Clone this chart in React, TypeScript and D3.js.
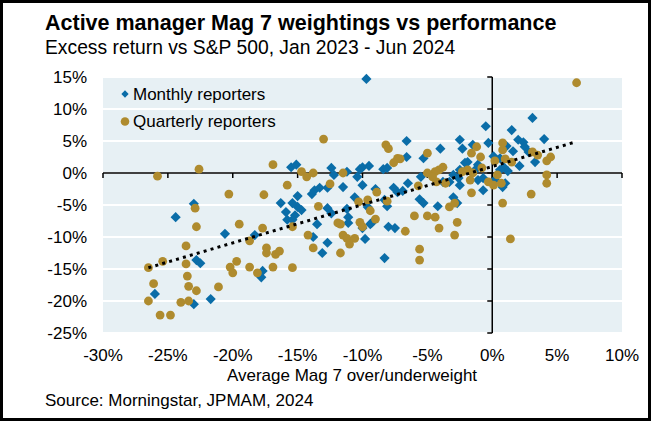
import React from "react";
import * as d3 from "d3";

const W = 651;
const H = 421;

const xTicks = [-30, -25, -20, -15, -10, -5, 0, 5, 10];
const yTicks = [15, 10, 5, 0, -5, -10, -15, -20, -25];

// Monthly reporters: [Mag 7 over/underweight %, excess return %]
const monthly: [number, number][] = [
  [-9.7, 14.7], [3.1, 8.6], [-0.5, 7.3], [1.5, 6.7], [4.0, 5.3], [2.0, 5.2], [2.4, 4.8],
  [-0.3, 4.7], [-6.6, 5.0], [-4.0, 3.8], [-2.5, 5.2], [-1.5, 4.4], [-2.3, 3.8], [1.1, 4.2],
  [2.5, 4.1], [1.6, 3.4], [2.8, 3.3], [3.3, 1.7], [2.1, 1.1], [0.6, 2.3], [0.1, 2.6],
  [0.9, 0.9], [1.2, 0.3], [0.6, 0.5], [1.0, -1.6], [0.8, -2.2], [-0.7, -2.7], [-1.1, -1.1],
  [-1.9, 1.7], [-2.0, 0.5], [-1.3, 0.5], [-6.6, 2.5], [-5.3, 2.3], [-2.1, 1.6], [-1.1, 1.3],
  [-2.5, 0.5], [-3.0, -0.3], [-2.6, -0.8], [-0.7, -0.8], [0.2, -1.1], [-3.3, -1.4],
  [-3.8, -1.4], [-2.5, -1.9], [-5.5, -0.6], [-6.5, -1.6], [-6.9, -2.8], [-5.6, -4.1],
  [-5.3, -4.7], [-4.2, -5.2], [-3.0, -3.8], [-2.7, -4.7], [-15.5, 0.9], [-15.1, 1.3],
  [-12.4, 0.8], [-12.2, -0.3], [-11.2, 0.2], [-10.2, 0.6], [-10.0, 0.9], [-9.5, 1.1],
  [-10.4, -0.6], [-8.4, 0.6], [-8.1, 0.8], [-11.5, -2.2], [-10.0, -1.9], [-13.7, -2.7],
  [-13.3, -2.3], [-13.9, -3.3], [-12.7, -2.3], [-9.0, -2.5], [-7.6, -2.3], [-7.3, -3.0],
  [-15.0, -3.6], [-10.6, -3.8], [-8.3, -4.2], [-8.1, -5.2], [-9.6, -5.3], [-12.7, -5.5],
  [-12.4, -6.3], [-11.2, -5.6], [-11.1, -6.9], [-15.0, -5.3], [-14.7, -5.8], [-15.2, -6.6],
  [-15.4, -4.7], [-16.3, -4.7], [-15.9, -6.1], [-15.8, -7.3], [-15.4, -7.3], [-23.0, -4.8],
  [-24.4, -6.9], [-20.6, -9.5], [-18.3, -9.7], [-17.7, -15.3], [-17.8, -16.3], [-22.8, -13.6],
  [-22.5, -14.1], [-26.0, -18.9], [-23.0, -20.5], [-21.7, -19.7], [-10.0, -8.6], [-9.3, -7.8],
  [-8.0, -8.4], [-7.5, -8.6], [-13.8, -10.0], [-9.8, -10.3], [-12.7, -10.9], [-13.1, -12.5],
  [-13.5, -8.0], [-9.4, -8.0], [-11.1, -7.8], [-8.3, -13.3],
];

// Quarterly reporters
const quarterly: [number, number][] = [
  [6.5, 14.1], [-13.0, 5.3], [-8.2, 4.4], [-8.0, 3.8], [-7.3, 2.3], [-7.6, 1.6], [-14.7, 0.2],
  [-14.3, -0.6], [-13.8, 0.0], [-11.5, 0.0], [-12.5, -1.7], [-8.9, -3.0], [-10.3, -4.5],
  [-9.6, -4.2], [-8.1, -4.4], [-13.4, -5.2], [-11.9, -7.8], [-11.7, -8.0], [-9.4, -5.9],
  [-10.2, -7.7], [-10.0, -8.4], [-9.0, -7.2], [-6.7, -9.1], [-14.2, -9.7], [-11.5, -9.7],
  [-11.2, -10.2], [-10.6, -10.2], [-11.0, -11.1], [-13.8, -11.7], [-11.7, -12.5],
  [-15.4, -14.8], [-6.0, -6.7], [-5.0, -6.7], [-4.4, -6.9], [-4.1, -8.6], [-2.9, -9.7],
  [-2.7, -7.7], [-3.3, -5.3], [-2.9, -4.7], [-5.6, -11.9], [-5.6, -13.6], [-1.2, 4.1],
  [-1.6, 3.1], [-0.9, 2.5], [-5.0, 3.1], [-7.1, 2.2], [0.2, 1.9], [-3.8, 0.9], [-4.1, 0.5],
  [-4.4, 0.2], [-5.0, 0.0], [-4.6, -0.6], [-4.3, -1.4], [-3.6, -1.6], [-1.9, 0.5],
  [-1.5, 0.0], [-0.8, 0.8], [-0.3, -1.4], [0.1, -1.9], [-1.6, -3.1], [-5.7, -2.0],
  [-2.3, 0.2], [-1.7, -1.1], [0.8, 4.7], [0.8, 3.6], [3.1, 3.3], [3.5, 2.8], [4.5, 2.5],
  [4.2, 1.9], [1.0, 2.2], [1.5, 1.7], [0.4, -0.3], [4.2, -0.3], [4.2, -1.6], [0.7, -1.6],
  [3.0, -3.3], [0.8, -4.7], [1.4, -10.3], [-25.8, -0.5], [-22.6, 0.6], [-20.3, -3.3],
  [-17.6, -3.4], [-16.9, 1.3], [-15.8, -1.9], [-22.9, -5.5], [-22.8, -8.4], [-19.5, -8.0],
  [-17.7, -8.6], [-18.7, -10.6], [-23.6, -11.4], [-17.4, -11.7], [-17.4, -12.5],
  [-16.7, -12.7], [-16.4, -12.2], [-25.4, -13.8], [-23.6, -14.2], [-19.7, -13.8],
  [-16.9, -14.7], [-26.5, -14.8], [-18.7, -14.7], [-20.2, -14.7], [-20.0, -15.6],
  [-18.1, -15.6], [-23.5, -16.1], [-26.1, -17.3], [-23.4, -17.7], [-22.8, -18.4],
  [-21.1, -17.8], [-26.5, -20.0], [-24.0, -20.2], [-23.4, -20.0], [-25.6, -22.2],
  [-24.8, -22.2], [-15.4, -8.4],
];

const trendX = [-26.5, 6.5];
const trendY = [-14.8, 4.9];

const BLUE = "#0A6DA8";
const GOLD = "#AF8B2E";
const BG = "#E7F0F4";
const FONT = "'Liberation Sans', Arial, sans-serif";

export default function App() {
  const x = d3.scaleLinear().domain([-30, 10]).range([103, 622]);
  const y = d3.scaleLinear().domain([-25, 15]).range([333, 77]);

  const diamond = d3.symbol().type(d3.symbolDiamond2).size(66)()!;
  const legendDiamond = d3.symbol().type(d3.symbolDiamond2).size(34)()!;

  const trend = d3
    .line<number>()
    .x((d) => x(d))
    .y((_, i) => y(trendY[i]))(trendX)!;

  return (
    <svg
      width={W}
      height={H}
      viewBox={`0 0 ${W} ${H}`}
      style={{ position: "absolute", left: 0, top: 0, background: "#fff" }}
      fontFamily={FONT}
    >
      <rect x={0} y={0} width={W} height={H} fill="#fff" />
      <rect x={1.5} y={1.5} width={W - 3} height={H - 3} fill="none" stroke="#000" strokeWidth={3} />

      <text x={45} y={30} fontSize={21.5} fontWeight="bold" fill="#000">
        Active manager Mag 7 weightings vs performance
      </text>
      <text x={45} y={54} fontSize={19.3} fill="#000">
        Excess return vs S&amp;P 500, Jan 2023 - Jun 2024
      </text>

      <rect x={x(-30)} y={y(15)} width={x(10) - x(-30)} height={y(-25) - y(15)} fill={BG} />
      {yTicks.map((t) => (
        <line key={"g" + t} x1={x(-30)} x2={x(10)} y1={y(t)} y2={y(t)} stroke="#fff" strokeWidth={2} />
      ))}

      {/* legend */}
      <path d={legendDiamond} transform={`translate(125,94)`} fill={BLUE} />
      <text x={133} y={100} fontSize={17} fill="#000">Monthly reporters</text>
      <circle cx={125} cy={121.5} r={4.3} fill={GOLD} />
      <text x={133} y={127} fontSize={17} fill="#000">Quarterly reporters</text>

      {/* axes */}
      <line x1={x(-30)} x2={x(10)} y1={y(0)} y2={y(0)} stroke="#000" strokeWidth={1.5} />
      {xTicks.map((t) => (
        <line key={"xt" + t} x1={x(t)} x2={x(t)} y1={y(0)} y2={y(0) + 5} stroke="#000" strokeWidth={1.5} />
      ))}
      <line x1={x(0)} x2={x(0)} y1={y(15)} y2={y(-25)} stroke="#000" strokeWidth={1.5} />
      {yTicks.map((t) => (
        <line key={"yt" + t} x1={x(0) - 5} x2={x(0)} y1={y(t)} y2={y(t)} stroke="#000" strokeWidth={1.5} />
      ))}

      {/* points */}
      {monthly.map((d, i) => (
        <path key={"m" + i} d={diamond} transform={`translate(${x(d[0])},${y(d[1])})`} fill={BLUE} />
      ))}
      {quarterly.map((d, i) => (
        <circle key={"q" + i} cx={x(d[0])} cy={y(d[1])} r={4.4} fill={GOLD} />
      ))}

      <path d={trend} fill="none" stroke="#000" strokeWidth={3} strokeDasharray="3 4.2" />

      {/* tick labels */}
      {yTicks.map((t) => (
        <text key={"yl" + t} x={87} y={y(t)} dy="0.36em" fontSize={17} textAnchor="end" fill="#000">
          {t}%
        </text>
      ))}
      {xTicks.map((t) => (
        <text key={"xl" + t} x={x(t)} y={361} fontSize={17} textAnchor="middle" fill="#000">
          {t}%
        </text>
      ))}
      <text x={352} y={381} fontSize={17} textAnchor="middle" fill="#000">
        Average Mag 7 over/underweight
      </text>
      <text x={45} y={406} fontSize={17} fill="#000">
        Source: Morningstar, JPMAM, 2024
      </text>
    </svg>
  );
}
